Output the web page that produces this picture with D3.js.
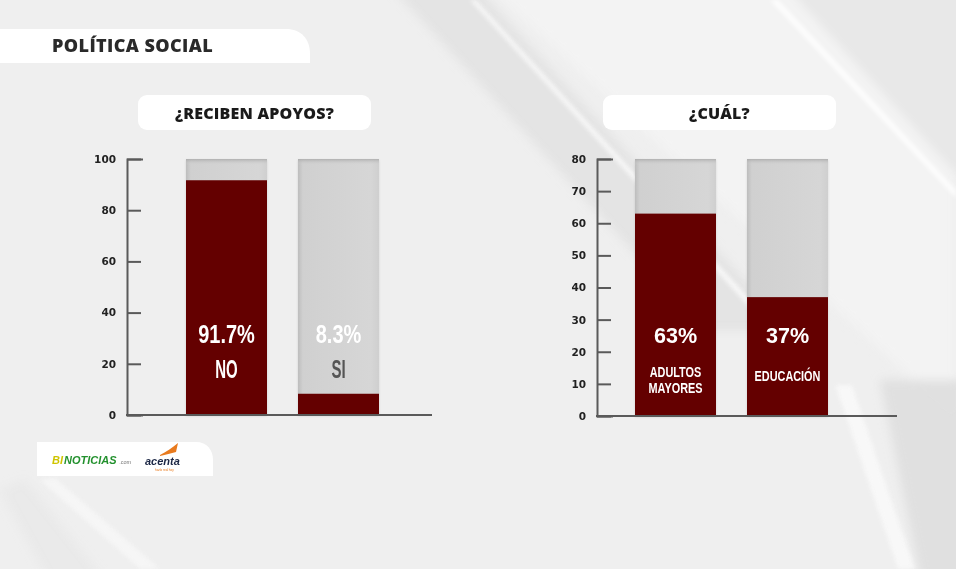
<!DOCTYPE html>
<html>
<head>
<meta charset="utf-8">
<script src="https://cdn.jsdelivr.net/npm/d3@7/dist/d3.min.js"></script>
<style>
  html, body { margin: 0; padding: 0; background: #efefef; }
  svg { display: block; }
</style>
</head>
<body>
<svg id="chart" width="956" height="569"></svg>
<script>
// ---------------- DATA ----------------
const pageTitle = "POLÍTICA SOCIAL";
const leftTitle = "¿RECIBEN APOYOS?";
const rightTitle = "¿CUÁL?";

const leftCategories = ["NO", "SI"];
const leftValues = [91.7, 8.3];
const leftLabels = ["91.7%", "8.3%"];
const leftMax = 100;
const leftTicks = [0, 20, 40, 60, 80, 100];

const rightCategories = [["ADULTOS", "MAYORES"], ["EDUCACIÓN"]];
const rightValues = [63, 37];
const rightLabels = ["63%", "37%"];
const rightMax = 80;
const rightTicks = [0, 10, 20, 30, 40, 50, 60, 70, 80];

// ---------------- SETUP ----------------
const svg = d3.select("#chart");
const W = 956, H = 569;
const RED = "#640000";
const AXIS = "#5a5a5a";

const defs = svg.append("defs");

const gH = defs.append("linearGradient").attr("id", "grayH").attr("x1", "0").attr("x2", "1").attr("y1", "0").attr("y2", "0");
gH.append("stop").attr("offset", "0").attr("stop-color", "#bdbdbd");
gH.append("stop").attr("offset", "0.06").attr("stop-color", "#d0d0d0");
gH.append("stop").attr("offset", "0.9").attr("stop-color", "#d6d6d6");
gH.append("stop").attr("offset", "1").attr("stop-color", "#cfcfcf");

const gTop = defs.append("linearGradient").attr("id", "grayTop").attr("x1", "0").attr("x2", "0").attr("y1", "0").attr("y2", "1");
gTop.append("stop").attr("offset", "0").attr("stop-color", "#a8a8a8").attr("stop-opacity", 0.8);
gTop.append("stop").attr("offset", "1").attr("stop-color", "#d3d3d3").attr("stop-opacity", 0);

const shadow = defs.append("filter").attr("id", "shadow").attr("x", "-10%").attr("y", "-10%").attr("width", "120%").attr("height", "130%");
shadow.append("feDropShadow").attr("dx", 0).attr("dy", 1).attr("stdDeviation", 1.2).attr("flood-color", "#000").attr("flood-opacity", 0.12);

const blur = defs.append("filter").attr("id", "soft").attr("x", "-20%").attr("y", "-20%").attr("width", "140%").attr("height", "140%");
blur.append("feGaussianBlur").attr("stdDeviation", 5);
const blur2 = defs.append("filter").attr("id", "soft2").attr("x", "-20%").attr("y", "-20%").attr("width", "140%").attr("height", "140%");
blur2.append("feGaussianBlur").attr("stdDeviation", 2);

// ---------------- BACKGROUND ----------------
svg.append("rect").attr("width", W).attr("height", H).attr("fill", "#efefef");
const bg = svg.append("g").attr("filter", "url(#soft)");
bg.append("path").attr("d", "M385,-20 L470,-20 L790,330 L705,330 Z").attr("fill", "#e2e2e2").attr("opacity", 0.9);
bg.append("path").attr("d", "M480,-20 L780,-20 L956,170 L956,420 Z").attr("fill", "#f3f3f3").attr("opacity", 0.9);
bg.append("path").attr("d", "M780,-20 L980,-20 L980,200 Z").attr("fill", "#e7e7e7").attr("opacity", 0.9);
bg.append("path").attr("d", "M880,380 L980,380 L980,600 L925,600 Z").attr("fill", "#dedede").attr("opacity", 0.9);
bg.append("path").attr("d", "M0,490 L25,480 L120,600 L60,600 Z").attr("fill", "#e6e6e6").attr("opacity", 0.6);
const hl = svg.append("g").attr("filter", "url(#soft2)").attr("opacity", 0.85);
hl.append("path").attr("d", "M470,0 L476,0 L760,310 L752,310 Z").attr("fill", "#fbfbfb");
hl.append("path").attr("d", "M770,0 L778,0 L956,190 L956,198 Z").attr("fill", "#ffffff");
hl.append("path").attr("d", "M835,385 L852,385 L915,569 L898,569 Z").attr("fill", "#f9f9f9");
hl.append("path").attr("d", "M40,480 L55,478 L160,569 L140,569 Z").attr("fill", "#f7f7f7");

// ---------------- HEADER TAB ----------------
svg.append("path")
  .attr("d", "M0,29 H286 C301,29 310,39 310,54 V63 H0 Z")
  .attr("fill", "#ffffff");
svg.append("text")
  .attr("x", 52).attr("y", 52)
  .attr("font-family", "'Open Sans', 'DejaVu Sans', sans-serif")
  .attr("font-weight", 800)
  .attr("font-size", 18)
  .attr("letter-spacing", 0.4)
  .attr("fill", "#2a2a2a")
  .text(pageTitle);

// ---------------- HELPERS ----------------
function condense(sel, factor) {
  sel.each(function () {
    const w = this.getComputedTextLength();
    d3.select(this).attr("textLength", w * factor).attr("lengthAdjust", "spacingAndGlyphs");
  });
}

function titleBox(x0, x1, y0, y1, label) {
  svg.append("rect")
    .attr("x", x0).attr("y", y0).attr("width", x1 - x0).attr("height", y1 - y0)
    .attr("rx", 9).attr("ry", 9)
    .attr("fill", "#ffffff");
  svg.append("text")
    .attr("x", (x0 + x1) / 2).attr("y", y0 + 24)
    .attr("text-anchor", "middle")
    .attr("font-family", "'Open Sans', 'DejaVu Sans', sans-serif")
    .attr("font-weight", 800)
    .attr("font-size", 16)
    .attr("letter-spacing", 0.2)
    .attr("fill", "#1a1a1a")
    .text(label);
}

function barChart(opts) {
  const g = svg.append("g");
  const y = d3.scaleLinear().domain([0, opts.max]).range([opts.yBottom, opts.yTop]);
  const x = d3.scaleBand().domain(d3.range(opts.values.length))
    .range([opts.xStart, opts.xEnd]).paddingInner(31 / 112).paddingOuter(0);

  const bars = g.selectAll("g.bar").data(opts.values).join("g").attr("class", "bar");
  bars.append("rect")
    .attr("x", (d, i) => x(i)).attr("width", x.bandwidth())
    .attr("y", y(opts.max)).attr("height", y(0) - y(opts.max))
    .attr("fill", "url(#grayH)")
    .attr("filter", "url(#shadow)");
  bars.append("rect")
    .attr("x", (d, i) => x(i)).attr("width", x.bandwidth())
    .attr("y", y(opts.max)).attr("height", 6)
    .attr("fill", "url(#grayTop)");
  bars.append("rect")
    .attr("x", (d, i) => x(i)).attr("width", x.bandwidth())
    .attr("y", d => y(d)).attr("height", d => y(0) - y(d))
    .attr("fill", RED);

  const axis = d3.axisLeft(y).tickValues(opts.ticks).tickSize(-14).tickSizeOuter(-16).tickPadding(11);
  const ag = g.append("g").attr("transform", `translate(${opts.axisX},0)`).call(axis);
  ag.select(".domain").attr("stroke", AXIS).attr("stroke-width", 2).attr("fill", "none");
  ag.selectAll(".tick line").attr("stroke", AXIS).attr("stroke-width", 2);
  ag.selectAll(".tick text")
    .attr("font-family", "'DejaVu Sans', sans-serif")
    .attr("font-weight", 700)
    .attr("font-size", 10.5)
    .attr("fill", "#222");
  g.append("line")
    .attr("x1", opts.axisX - 1).attr("x2", opts.baseEnd)
    .attr("y1", y(0)).attr("y2", y(0))
    .attr("stroke", AXIS).attr("stroke-width", 2);

  const cx = i => x(i) + x.bandwidth() / 2;
  opts.labels.forEach((lab, i) => {
    const t = g.append("text")
      .attr("x", cx(i)).attr("y", 343)
      .attr("text-anchor", "middle")
      .attr("font-family", "'Liberation Sans', Arial, sans-serif")
      .attr("font-weight", 700)
      .attr("font-size", opts.pctSize)
      .attr("fill", "#ffffff")
      .text(lab);
    condense(t, opts.pctFactor);
    const lines = Array.isArray(opts.cats[i]) ? opts.cats[i] : [opts.cats[i]];
    const baseY = lines.length > 1 ? opts.catY2 : opts.catY1;
    lines.forEach((ln, j) => {
      const inRed = y(opts.values[i]) < baseY + j * opts.catLH - 14;
      const c = g.append("text")
        .attr("x", cx(i)).attr("y", baseY + j * opts.catLH)
        .attr("text-anchor", "middle")
        .attr("font-family", "'Liberation Sans', Arial, sans-serif")
        .attr("font-weight", 700)
        .attr("font-size", opts.catSize)
        .attr("fill", inRed ? "#ffffff" : "#555555")
        .text(ln);
      condense(c, opts.catFactor);
    });
  });
}

// ---------------- LEFT CHART ----------------
titleBox(138, 371, 95, 130, leftTitle);
barChart({
  values: leftValues, labels: leftLabels, cats: leftCategories,
  max: leftMax, ticks: leftTicks,
  yBottom: 415, yTop: 159, xStart: 186, xEnd: 379,
  axisX: 127, baseEnd: 432,
  pctSize: 25, pctFactor: 0.8,
  catSize: 25, catFactor: 0.6, catY1: 378, catY2: 378, catLH: 14
});

// ---------------- RIGHT CHART ----------------
titleBox(603, 836, 95, 130, rightTitle);
barChart({
  values: rightValues, labels: rightLabels, cats: rightCategories,
  max: rightMax, ticks: rightTicks,
  yBottom: 416, yTop: 159, xStart: 635, xEnd: 828,
  axisX: 597, baseEnd: 897,
  pctSize: 22, pctFactor: 0.98,
  catSize: 14.5, catFactor: 0.75, catY1: 381, catY2: 377, catLH: 15.5
});

// ---------------- LOGO TAB ----------------
svg.append("path")
  .attr("d", "M37,442 H196 C207,442 213,450 213,460 V476 H37 Z")
  .attr("fill", "#ffffff");
const logoFont = "'Liberation Sans', Arial, sans-serif";
const bi = svg.append("text")
  .attr("x", 52).attr("y", 464)
  .attr("font-family", logoFont).attr("font-weight", 700).attr("font-style", "italic")
  .attr("font-size", 11).attr("fill", "#cfc400").text("BI");
const biW = bi.node().getComputedTextLength();
const noti = svg.append("text")
  .attr("x", 52 + biW + 1).attr("y", 464)
  .attr("font-family", logoFont).attr("font-weight", 700).attr("font-style", "italic")
  .attr("font-size", 11).attr("fill", "#23912e").text("NOTICIAS");
const notiBox = noti.node().getBBox();
svg.append("text")
  .attr("x", notiBox.x + notiBox.width + 2).attr("y", 464)
  .attr("font-family", logoFont).attr("font-size", 5.5).attr("fill", "#777").text(".com");
// acenta logo
svg.append("path").attr("d", "M160,455 C166,452 172,448 178,443 L176,452 C171,453 166,455 160,456 Z").attr("fill", "#e87a1e");
svg.append("text")
  .attr("x", 145).attr("y", 465)
  .attr("font-family", logoFont)
  .attr("font-weight", 700).attr("font-style", "italic")
  .attr("font-size", 11)
  .attr("fill", "#1c2745")
  .text("acenta");
svg.append("text")
  .attr("x", 155).attr("y", 471)
  .attr("font-family", logoFont)
  .attr("font-size", 3)
  .attr("fill", "#e87a1e")
  .text("hazlo real hoy");
</script>
</body>
</html>
